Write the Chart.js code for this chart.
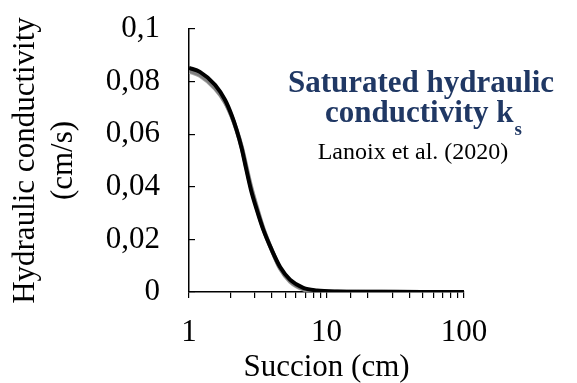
<!DOCTYPE html>
<html>
<head>
<meta charset="utf-8">
<script src="https://cdn.jsdelivr.net/npm/chart.js@4"></script>
<style>
  html, body { margin: 0; padding: 0; background: #fff; }
  #wrap { width: 577px; height: 383px; }
</style>
</head>
<body>
<div id="wrap"><canvas id="myChart" width="577" height="383"></canvas></div>
<script>
// suction (cm) and hydraulic conductivity (cm/s)
const suction = [1, 1.2, 1.55, 1.83, 2.04, 2.22, 2.42, 2.6, 2.82, 3.11, 3.47, 3.99, 4.6, 5.43, 6.78, 8.5, 12, 20, 50, 100];
const kBlack = [0.0852, 0.0837, 0.0787, 0.0730, 0.0673, 0.0616, 0.0545, 0.0470, 0.0389, 0.0313, 0.0237, 0.0161, 0.0095, 0.0047, 0.0016, 0.0006, 0.0002, 0.0001, 0, 0];
const kGrayDark = [0.0842, 0.0826, 0.0776, 0.0722, 0.0668, 0.0614, 0.0548, 0.0477, 0.0398, 0.0320, 0.0240, 0.0160, 0.0090, 0.0042, 0.0012, 0.0004, 0.0001, 0.0001, 0, 0];
const kGrayLight = [0.0838, 0.0822, 0.0772, 0.0720, 0.0668, 0.0617, 0.0553, 0.0484, 0.0405, 0.0326, 0.0244, 0.0162, 0.0088, 0.0039, 0.0010, 0.0003, 0.0001, 0, 0, 0];
const xLabels = [1, 10, 100];

const serif = "'Liberation Serif', 'Times New Roman', serif";
const toPts = ys => suction.map((x, i) => ({ x: x, y: ys[i] }));

// the text block in the upper right
const notePlugin = {
  id: "note",
  afterDraw(chart) {
    const c = chart.ctx;
    c.save();
    c.fillStyle = "#203864";
    c.textBaseline = "alphabetic";
    c.textAlign = "center";
    c.font = "bold 31px " + serif;
    c.fillText("Saturated hydraulic", 421, 92);
    const t = "conductivity k";
    const w = c.measureText(t).width;
    c.font = "bold 19px " + serif;
    const ws = c.measureText("s").width;
    const x0 = 423 - (w + ws) / 2;
    c.textAlign = "left";
    c.font = "bold 31px " + serif;
    c.fillText(t, x0, 122);
    c.font = "bold 19px " + serif;
    c.fillText("s", x0 + w + 1, 135);
    c.fillStyle = "#000";
    c.textAlign = "center";
    c.font = "24px " + serif;
    c.fillText("Lanoix et al. (2020)", 413, 159);
    c.restore();
  }
};

const ctx = document.getElementById("myChart");
new Chart(ctx, {
  type: "line",
  data: {
    datasets: [
      { data: toPts(kBlack), borderColor: "#000000", borderWidth: 4 },
      { data: toPts(kGrayDark), borderColor: "#7f7f7f", borderWidth: 4 },
      { data: toPts(kGrayLight), borderColor: "#a6a6a6", borderWidth: 4 }
    ]
  },
  options: {
    responsive: false,
    animation: false,
    layout: { padding: { left: 7, right: 113, top: 29, bottom: 0 } },
    elements: {
      point: { radius: 0 },
      line: { cubicInterpolationMode: "monotone", fill: false }
    },
    plugins: { legend: { display: false }, tooltip: { enabled: false } },
    scales: {
      x: {
        type: "logarithmic",
        min: 1,
        max: 100,
        afterFit: s => { s.height = 91; },
        border: { color: "#000", width: 1.5 },
        grid: { drawOnChartArea: false, color: "#000", tickLength: 6, lineWidth: 1.2 },
        ticks: {
          autoSkip: false,
          maxRotation: 0,
          padding: 16,
          color: "#000",
          font: { family: serif, size: 31 },
          callback: v => (xLabels.includes(v) ? String(v) : "")
        },
        title: {
          display: true,
          text: "Succion (cm)",
          color: "#000",
          padding: 0,
          font: { family: serif, size: 31, lineHeight: 1.0 }
        }
      },
      y: {
        min: 0,
        max: 0.1,
        afterFit: s => { s.width = 182; s.paddingTop = 0; s.paddingBottom = 0; },
        border: { color: "#000", width: 1.5 },
        grid: { drawOnChartArea: false, color: "#000", tickLength: -6, lineWidth: 1.2 },
        ticks: {
          stepSize: 0.02,
          padding: 35,
          color: "#000",
          font: { family: serif, size: 31 },
          callback: v => String(Number(v.toFixed(2))).replace(".", ",")
        },
        title: {
          display: true,
          text: ["Hydraulic conductivity", "(cm/s)"],
          color: "#000",
          padding: 0,
          font: { family: serif, size: 31, lineHeight: 1.22 }
        }
      }
    }
  },
  plugins: [notePlugin]
});
</script>
</body>
</html>
